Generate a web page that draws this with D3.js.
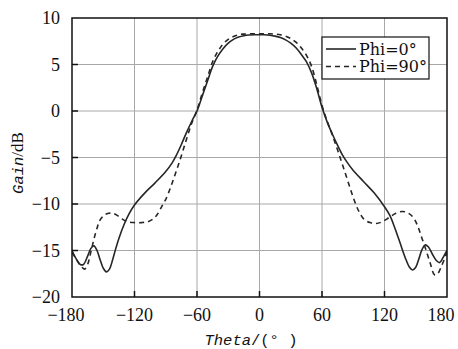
<!DOCTYPE html>
<html lang="en">
<head>
    <meta charset="UTF-8">
    <title>Gain vs Theta</title>
    <style>
        body { margin: 0; background: #fff; }
        svg { display: block; }
        .tick-label { font-family: "Liberation Serif", serif; font-size: 18px; fill: #111; }
        .legend-label { font-family: "DejaVu Serif", serif; font-size: 16px; fill: #111; }
        .axis-title { font-family: "Liberation Mono", monospace; font-size: 15.5px; fill: #111; }
    </style>
</head>
<body>
    <svg id="chart"></svg>
    <script src="https://d3js.org/d3.v7.min.js"></script>
    <script>
        const width = 458, height = 349;

        // axis ticks
        const xTicks = [-180, -120, -60, 0, 60, 120, 180];
        const yTicks = [10, 5, 0, -5, -10, -15, -20];

        // Phi = 0 deg (solid)
        const phi0Theta = [-180, -176, -172, -169, -165, -162, -159, -156, -153, -150, -147, -144, -141, -138, -135, -130, -125, -120, -110, -100, -90, -84, -80, -75, -70, -65, -60, -55, -50, -45, -40, -35, -30, -25, -20, -15, -10, -5, 0, 5, 10, 15, 20, 25, 30, 35, 40, 45, 50, 55, 60, 65, 70, 75, 80, 84, 90, 100, 110, 120, 125, 130, 135, 140, 144, 147, 150, 153, 156, 159, 162, 166, 170, 173, 176, 180];
        const phi0Gain = [-15.0, -15.9, -16.5, -16.5, -15.6, -14.8, -14.5, -15.0, -16.0, -16.9, -17.3, -17.0, -16.0, -14.8, -13.7, -12.2, -11.0, -10.1, -8.8, -7.7, -6.5, -5.6, -4.8, -3.6, -2.3, -1.1, 0, 1.6, 3.2, 4.8, 5.9, 6.7, 7.3, 7.7, 7.95, 8.1, 8.17, 8.2, 8.2, 8.2, 8.15, 8.05, 7.9, 7.65, 7.3, 6.8, 6.1, 5.3, 4.1, 2.4, 0.4, -1.2, -2.5, -3.7, -4.8, -5.5, -6.4, -7.6, -8.8, -10.3, -11.2, -12.6, -14.2, -15.8, -16.8, -17.1, -16.8, -15.9, -14.9, -14.4, -14.6, -15.4, -16.1, -16.3, -15.8, -15.0];

        // Phi = 90 deg (dashed)
        const phi90Theta = [-180, -176, -172, -168, -165, -162, -159, -156, -153, -149, -145, -141, -137, -132, -127, -120, -113, -107, -102, -98, -94, -90, -85, -80, -75, -70, -65, -60, -55, -50, -45, -40, -35, -30, -25, -20, -15, -10, -5, 0, 5, 10, 15, 20, 25, 30, 35, 40, 45, 50, 55, 60, 65, 70, 75, 80, 85, 90, 95, 100, 106, 112, 118, 125, 131, 137, 143, 148, 152, 156, 160, 164, 168, 171, 175, 180];
        const phi90Gain = [-15.2, -15.9, -16.6, -17.0, -16.5, -15.2, -13.8, -12.6, -11.7, -11.2, -11.0, -11.0, -11.2, -11.6, -11.9, -12.0, -12.0, -11.9, -11.6, -11.1, -10.3, -9.5, -8.1, -6.5, -4.8, -3.0, -1.3, 0.1, 1.9, 3.6, 5.3, 6.4, 7.2, 7.7, 8.0, 8.2, 8.27, 8.3, 8.3, 8.3, 8.3, 8.3, 8.27, 8.2, 8.05, 7.8, 7.4, 6.8, 6.0, 4.8, 2.8, 0.6, -1.1, -2.6, -4.2, -5.9, -7.6, -9.3, -10.7, -11.6, -12.0, -12.1, -11.9, -11.4, -11.0, -10.8, -11.0, -11.5, -12.4, -13.7, -15.0, -16.4, -17.6, -17.5, -16.6, -15.2];

        const series = [
            { name: "Phi=0°", theta: phi0Theta, gain: phi0Gain, dash: null },
            { name: "Phi=90°", theta: phi90Theta, gain: phi90Gain, dash: "5,4" }
        ];

        const plotLeft = 72, plotRight = 447, plotTop = 18, plotBottom = 297;

        const svg = d3.select("#chart")
            .attr("width", width)
            .attr("height", height);

        const x = d3.scaleLinear().domain([-180, 180]).range([plotLeft, plotRight]);
        const y = d3.scaleLinear().domain([-20, 10]).range([plotBottom, plotTop]);

        // grid
        svg.append("g")
            .selectAll("line")
            .data(xTicks.slice(1, -1))
            .join("line")
            .attr("x1", d => x(d)).attr("x2", d => x(d))
            .attr("y1", plotTop).attr("y2", plotBottom)
            .attr("stroke", "#a8a8a8").attr("stroke-width", 1);

        svg.append("g")
            .selectAll("line")
            .data(yTicks.slice(1, -1))
            .join("line")
            .attr("x1", plotLeft).attr("x2", plotRight)
            .attr("y1", d => y(d)).attr("y2", d => y(d))
            .attr("stroke", "#a8a8a8").attr("stroke-width", 1);

        // inward ticks
        svg.append("g")
            .selectAll("line")
            .data(xTicks.slice(1, -1))
            .join("line")
            .attr("x1", d => x(d)).attr("x2", d => x(d))
            .attr("y1", plotBottom).attr("y2", plotBottom - 6)
            .attr("stroke", "#111").attr("stroke-width", 1.5);

        svg.append("g")
            .selectAll("line")
            .data(yTicks.slice(1, -1))
            .join("line")
            .attr("x1", plotLeft).attr("x2", plotLeft + 6)
            .attr("y1", d => y(d)).attr("y2", d => y(d))
            .attr("stroke", "#111").attr("stroke-width", 1.5);

        // curves
        const line = d3.line()
            .x(d => x(d[0]))
            .y(d => y(d[1]))
            .curve(d3.curveCatmullRom.alpha(0.5));

        svg.append("clipPath").attr("id", "plot-clip")
            .append("rect")
            .attr("x", plotLeft).attr("y", plotTop)
            .attr("width", plotRight - plotLeft).attr("height", plotBottom - plotTop);

        svg.append("g")
            .attr("clip-path", "url(#plot-clip)")
            .selectAll("path")
            .data(series)
            .join("path")
            .attr("d", s => line(s.theta.map((t, i) => [t, s.gain[i]])))
            .attr("fill", "none")
            .attr("stroke", "#262626")
            .attr("stroke-width", 1.6)
            .attr("stroke-dasharray", s => s.dash);

        // frame
        svg.append("rect")
            .attr("x", plotLeft).attr("y", plotTop)
            .attr("width", plotRight - plotLeft).attr("height", plotBottom - plotTop)
            .attr("fill", "none")
            .attr("stroke", "#111")
            .attr("stroke-width", 1.5);

        // tick labels (end labels nudged so they stay on the page)
        const fmt = d => d < 0 ? "\u2212" + Math.abs(d) : d;
        svg.append("g")
            .selectAll("text")
            .data(xTicks)
            .join("text")
            .attr("class", "tick-label")
            .attr("x", d => x(d) + (d === 180 ? -6 : d === -180 ? -6 : 0))
            .attr("y", 321)
            .attr("text-anchor", "middle")
            .text(fmt);

        svg.append("g")
            .selectAll("text")
            .data(yTicks)
            .join("text")
            .attr("class", "tick-label")
            .attr("x", 60)
            .attr("y", d => y(d) + 6)
            .attr("text-anchor", "end")
            .text(fmt);

        // axis titles
        const xt = svg.append("text")
            .attr("class", "axis-title")
            .attr("x", 251)
            .attr("y", 345)
            .attr("text-anchor", "middle");
        xt.append("tspan").attr("font-style", "italic").text("Theta");
        xt.append("tspan").text("/(°\u00a0)");

        const yt = svg.append("text")
            .attr("class", "axis-title")
            .attr("transform", "translate(23,163) rotate(-90)")
            .attr("text-anchor", "middle");
        yt.append("tspan").attr("font-style", "italic").text("Gain");
        yt.append("tspan").attr("font-family", "Liberation Serif, serif").attr("font-size", "17px").text("/dB");

        // legend
        const legend = svg.append("g");
        legend.append("rect")
            .attr("x", 322).attr("y", 37)
            .attr("width", 107).attr("height", 42)
            .attr("fill", "#fff")
            .attr("stroke", "#111")
            .attr("stroke-width", 1.2);

        const items = legend.selectAll("g.item")
            .data(series)
            .join("g")
            .attr("class", "item")
            .attr("transform", (d, i) => `translate(0,${49 + i * 17.5})`);

        items.append("line")
            .attr("x1", 326).attr("x2", 356)
            .attr("y1", 0).attr("y2", 0)
            .attr("stroke", "#262626")
            .attr("stroke-width", 1.6)
            .attr("stroke-dasharray", d => d.dash);

        items.append("text")
            .attr("class", "legend-label")
            .attr("x", 359)
            .attr("y", 5.5)
            .text(d => d.name);
    </script>
</body>
</html>
